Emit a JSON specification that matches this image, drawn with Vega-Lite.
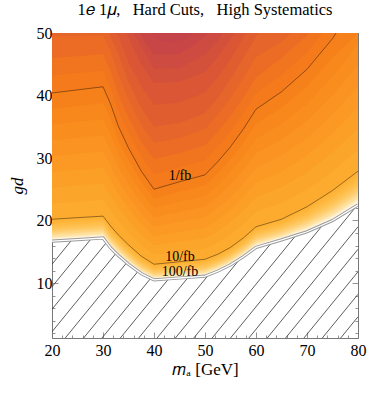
{
"$schema": "https://vega.github.io/schema/vega-lite/v6.json",
"width": 306, "height": 305,
"autosize": {"type": "none"},
"padding": {"left": 52, "top": 33, "right": 16, "bottom": 58},
"background": "white",
"title": {"text": "1𝑒 1𝜇,\u2002 Hard Cuts,\u2002 High Systematics", "font": "Liberation Serif", "fontSize": 16.5, "fontWeight": "normal", "color": "#000", "offset": 7},
"config": {
  "view": {"stroke": "#777", "strokeWidth": 1},
  "axis": {"domain": false, "grid": false, "labelFlush": false, "labelOverlap": false, "labelFont": "Liberation Serif", "labelFontSize": 16, "labelColor": "#000", "tickColor": "#777", "tickWidth": 0.8, "titleFont": "Liberation Serif", "titleFontSize": 17, "titleFontWeight": "normal", "titleColor": "#000"}
},
"datasets": {
  "wide": [
    {"m":20,"a0":16.7,"a1":16.88,"a2":17.05,"a3":17.23,"a4":17.4,"a5":17.75,"a6":18.1,"a7":18.45,"a8":18.8,"a9":19.15,"a10":19.5,"a11":19.85,"c0":20.2,"c1":22.73,"c2":25.25,"c3":27.78,"c4":30.3,"c5":32.83,"c6":35.35,"c7":37.88},
    {"m":25,"a0":16.95,"a1":17.13,"a2":17.3,"a3":17.48,"a4":17.65,"a5":18.0,"a6":18.35,"a7":18.7,"a8":19.05,"a9":19.4,"a10":19.75,"a11":20.1,"c0":20.45,"c1":23.01,"c2":25.56,"c3":28.12,"c4":30.68,"c5":33.23,"c6":35.79,"c7":38.34},
    {"m":30,"a0":17.2,"a1":17.38,"a2":17.55,"a3":17.73,"a4":17.9,"a5":18.25,"a6":18.6,"a7":18.95,"a8":19.3,"a9":19.65,"a10":20.0,"a11":20.35,"c0":20.7,"c1":23.29,"c2":25.88,"c3":28.46,"c4":31.05,"c5":33.64,"c6":36.23,"c7":38.81},
    {"m":31.5,"a0":15.6,"a1":15.78,"a2":15.95,"a3":16.13,"a4":16.3,"a5":16.65,"a6":17.0,"a7":17.35,"a8":17.7,"a9":18.05,"a10":18.4,"a11":18.75,"c0":19.1,"c1":21.54,"c2":23.98,"c3":26.41,"c4":28.85,"c5":31.29,"c6":33.73,"c7":36.16},
    {"m":33,"a0":14.4,"a1":14.57,"a2":14.73,"a3":14.9,"a4":15.06,"a5":15.39,"a6":15.72,"a7":16.05,"a8":16.38,"a9":16.71,"a10":17.04,"a11":17.37,"c0":17.7,"c1":19.88,"c2":22.05,"c3":24.23,"c4":26.4,"c5":28.58,"c6":30.75,"c7":32.93},
    {"m":35,"a0":13.0,"a1":13.16,"a2":13.31,"a3":13.47,"a4":13.62,"a5":13.93,"a6":14.24,"a7":14.55,"a8":14.86,"a9":15.17,"a10":15.48,"a11":15.79,"c0":16.1,"c1":18.04,"c2":19.98,"c3":21.91,"c4":23.85,"c5":25.79,"c6":27.73,"c7":29.66},
    {"m":37.5,"a0":11.5,"a1":11.64,"a2":11.78,"a3":11.92,"a4":12.06,"a5":12.34,"a6":12.62,"a7":12.9,"a8":13.18,"a9":13.46,"a10":13.74,"a11":14.02,"c0":14.3,"c1":16.0,"c2":17.7,"c3":19.4,"c4":21.1,"c5":22.8,"c6":24.5,"c7":26.2},
    {"m":40,"a0":10.5,"a1":10.63,"a2":10.75,"a3":10.88,"a4":11.0,"a5":11.25,"a6":11.5,"a7":11.75,"a8":12.0,"a9":12.25,"a10":12.5,"a11":12.75,"c0":13.0,"c1":14.5,"c2":16.0,"c3":17.5,"c4":19.0,"c5":20.5,"c6":22.0,"c7":23.5},
    {"m":45,"a0":10.8,"a1":10.93,"a2":11.06,"a3":11.19,"a4":11.32,"a5":11.58,"a6":11.84,"a7":12.1,"a8":12.36,"a9":12.62,"a10":12.88,"a11":13.14,"c0":13.4,"c1":15.0,"c2":16.6,"c3":18.2,"c4":19.8,"c5":21.4,"c6":23.0,"c7":24.6},
    {"m":50,"a0":11.1,"a1":11.24,"a2":11.37,"a3":11.51,"a4":11.64,"a5":11.91,"a6":12.18,"a7":12.45,"a8":12.72,"a9":12.99,"a10":13.26,"a11":13.53,"c0":13.8,"c1":15.49,"c2":17.18,"c3":18.86,"c4":20.55,"c5":22.24,"c6":23.93,"c7":25.61},
    {"m":52.5,"a0":11.9,"a1":12.04,"a2":12.17,"a3":12.31,"a4":12.44,"a5":12.71,"a6":12.98,"a7":13.25,"a8":13.52,"a9":13.79,"a10":14.06,"a11":14.33,"c0":14.6,"c1":16.45,"c2":18.3,"c3":20.15,"c4":22.0,"c5":23.85,"c6":25.7,"c7":27.55},
    {"m":55,"a0":12.9,"a1":13.04,"a2":13.18,"a3":13.32,"a4":13.46,"a5":13.74,"a6":14.02,"a7":14.3,"a8":14.58,"a9":14.86,"a10":15.14,"a11":15.42,"c0":15.7,"c1":17.71,"c2":19.73,"c3":21.74,"c4":23.75,"c5":25.76,"c6":27.78,"c7":29.79},
    {"m":57.5,"a0":14.2,"a1":14.35,"a2":14.5,"a3":14.65,"a4":14.8,"a5":15.1,"a6":15.4,"a7":15.7,"a8":16.0,"a9":16.3,"a10":16.6,"a11":16.9,"c0":17.2,"c1":19.38,"c2":21.55,"c3":23.73,"c4":25.9,"c5":28.08,"c6":30.25,"c7":32.43},
    {"m":60,"a0":15.7,"a1":15.87,"a2":16.03,"a3":16.2,"a4":16.36,"a5":16.69,"a6":17.02,"a7":17.35,"a8":17.68,"a9":18.01,"a10":18.34,"a11":18.67,"c0":19.0,"c1":21.35,"c2":23.7,"c3":26.05,"c4":28.4,"c5":30.75,"c6":33.1,"c7":35.45},
    {"m":65,"a0":16.9,"a1":17.07,"a2":17.23,"a3":17.4,"a4":17.56,"a5":17.89,"a6":18.22,"a7":18.55,"a8":18.88,"a9":19.21,"a10":19.54,"a11":19.87,"c0":20.2,"c1":22.75,"c2":25.3,"c3":27.85,"c4":30.4,"c5":32.95,"c6":35.5,"c7":38.05},
    {"m":70,"a0":18.2,"a1":18.4,"a2":18.6,"a3":18.8,"a4":19.0,"a5":19.4,"a6":19.8,"a7":20.2,"a8":20.6,"a9":21.0,"a10":21.4,"a11":21.8,"c0":22.2,"c1":24.95,"c2":27.7,"c3":30.45,"c4":33.2,"c5":35.95,"c6":38.7,"c7":41.45},
    {"m":75,"a0":20.0,"a1":20.24,"a2":20.48,"a3":20.72,"a4":20.96,"a5":21.44,"a6":21.92,"a7":22.4,"a8":22.88,"a9":23.36,"a10":23.84,"a11":24.32,"c0":24.8,"c1":27.84,"c2":30.88,"c3":33.91,"c4":36.95,"c5":39.99,"c6":43.03,"c7":46.06},
    {"m":80,"a0":22.5,"a1":22.77,"a2":23.04,"a3":23.31,"a4":23.58,"a5":24.12,"a6":24.66,"a7":25.2,"a8":25.74,"a9":26.28,"a10":26.82,"a11":27.36,"c0":27.9,"c1":31.29,"c2":34.68,"c3":38.06,"c4":41.45,"c5":44.84,"c6":48.23,"c7":50}
  ],
  "top": [
    {"l":"t0","m":20,"g":40.4},{"l":"t0","m":25,"g":40.9},{"l":"t0","m":30,"g":41.4},{"l":"t0","m":31.5,"g":38.6},{"l":"t0","m":33,"g":35.1},{"l":"t0","m":35,"g":31.6},{"l":"t0","m":37.5,"g":27.9},{"l":"t0","m":40,"g":25.0},{"l":"t0","m":45,"g":26.2},{"l":"t0","m":50,"g":27.3},{"l":"t0","m":52.5,"g":29.4},{"l":"t0","m":55,"g":31.8},{"l":"t0","m":57.5,"g":34.6},{"l":"t0","m":60,"g":37.8},{"l":"t0","m":65,"g":40.6},{"l":"t0","m":70,"g":44.2},{"l":"t0","m":75,"g":49.1},{"l":"t0","m":75.7,"g":50},{"l":"t0","m":80,"g":50},
    {"l":"t1","m":20,"g":43.2},{"l":"t1","m":25,"g":43.6},{"l":"t1","m":30,"g":44.0},{"l":"t1","m":31.5,"g":41.2},{"l":"t1","m":33,"g":37.65},{"l":"t1","m":35,"g":34.05},{"l":"t1","m":37.5,"g":30.25},{"l":"t1","m":40,"g":27.4},{"l":"t1","m":45,"g":28.5},{"l":"t1","m":50,"g":29.65},{"l":"t1","m":52.5,"g":31.8},{"l":"t1","m":55,"g":34.25},{"l":"t1","m":57.5,"g":37.1},{"l":"t1","m":60,"g":40.35},{"l":"t1","m":65,"g":43.3},{"l":"t1","m":70,"g":46.9},{"l":"t1","m":73,"g":50},{"l":"t1","m":80,"g":50},
    {"l":"t2","m":20,"g":46.0},{"l":"t2","m":25,"g":46.3},{"l":"t2","m":30,"g":46.6},{"l":"t2","m":31.5,"g":43.8},{"l":"t2","m":33,"g":40.2},{"l":"t2","m":35,"g":36.5},{"l":"t2","m":37.5,"g":32.6},{"l":"t2","m":40,"g":29.8},{"l":"t2","m":45,"g":30.8},{"l":"t2","m":50,"g":32.0},{"l":"t2","m":52.5,"g":34.2},{"l":"t2","m":55,"g":36.7},{"l":"t2","m":57.5,"g":39.6},{"l":"t2","m":60,"g":42.9},{"l":"t2","m":65,"g":46.0},{"l":"t2","m":70,"g":49.6},{"l":"t2","m":70.5,"g":50},{"l":"t2","m":80,"g":50},
    {"l":"t3","m":20,"g":49.5},{"l":"t3","m":30,"g":49.6},{"l":"t3","m":31.5,"g":47.0},{"l":"t3","m":33,"g":43.4},{"l":"t3","m":35,"g":39.35},{"l":"t3","m":37.5,"g":35.3},{"l":"t3","m":40,"g":32.4},{"l":"t3","m":45,"g":33.2},{"l":"t3","m":50,"g":34.6},{"l":"t3","m":52.5,"g":36.9},{"l":"t3","m":55,"g":39.65},{"l":"t3","m":57.5,"g":42.8},{"l":"t3","m":60,"g":46.15},{"l":"t3","m":65,"g":48.6},{"l":"t3","m":67,"g":50},{"l":"t3","m":80,"g":50},
    {"l":"t4","m":20,"g":50},{"l":"t4","m":31.2,"g":50},{"l":"t4","m":33,"g":46.6},{"l":"t4","m":35,"g":42.2},{"l":"t4","m":37.5,"g":38.0},{"l":"t4","m":40,"g":35.0},{"l":"t4","m":45,"g":35.6},{"l":"t4","m":50,"g":37.2},{"l":"t4","m":52.5,"g":39.6},{"l":"t4","m":55,"g":42.6},{"l":"t4","m":57.5,"g":46.0},{"l":"t4","m":60,"g":49.4},{"l":"t4","m":60.6,"g":50},{"l":"t4","m":80,"g":50},
    {"l":"t5","m":20,"g":50},{"l":"t5","m":32.4,"g":50},{"l":"t5","m":33,"g":49.6},{"l":"t5","m":35,"g":45.3},{"l":"t5","m":37.5,"g":41.5},{"l":"t5","m":40,"g":38.5},{"l":"t5","m":45,"g":38.9},{"l":"t5","m":50,"g":40.5},{"l":"t5","m":52.5,"g":42.9},{"l":"t5","m":55,"g":45.8},{"l":"t5","m":57.5,"g":49.3},{"l":"t5","m":58,"g":50},{"l":"t5","m":80,"g":50},
    {"l":"t6","m":20,"g":50},{"l":"t6","m":34.6,"g":50},{"l":"t6","m":35.5,"g":48.4},{"l":"t6","m":37.5,"g":45.0},{"l":"t6","m":40,"g":42.0},{"l":"t6","m":45,"g":42.2},{"l":"t6","m":50,"g":43.8},{"l":"t6","m":52.5,"g":46.2},{"l":"t6","m":55,"g":49.0},{"l":"t6","m":55.8,"g":50},{"l":"t6","m":80,"g":50},
    {"l":"t7","m":20,"g":50},{"l":"t7","m":36,"g":50},{"l":"t7","m":37.5,"g":47.8},{"l":"t7","m":40,"g":44.3},{"l":"t7","m":45,"g":44.4},{"l":"t7","m":50,"g":46.6},{"l":"t7","m":52.5,"g":48.8},{"l":"t7","m":53.5,"g":50},{"l":"t7","m":80,"g":50},
    {"l":"t8","m":20,"g":50},{"l":"t8","m":37.2,"g":50},{"l":"t8","m":38.5,"g":48.2},{"l":"t8","m":40,"g":46.6},{"l":"t8","m":45,"g":46.6},{"l":"t8","m":48,"g":48.2},{"l":"t8","m":50,"g":49.5},{"l":"t8","m":50.8,"g":50},{"l":"t8","m":80,"g":50},
    {"l":"t9","m":20,"g":50},{"l":"t9","m":39.5,"g":50},{"l":"t9","m":41,"g":48.8},{"l":"t9","m":44,"g":48.5},{"l":"t9","m":46.5,"g":49.2},{"l":"t9","m":48,"g":50},{"l":"t9","m":80,"g":50}
  ],
  "hatch": [
    {"m":20,"g":13.0,"m2":23.89,"g2":16.89},{"m":20,"g":9.4,"m2":27.68,"g2":17.08},{"m":20,"g":5.8,"m2":30.68,"g2":16.48},{"m":20,"g":2.2,"m2":32.56,"g2":14.76},
    {"m":22.6,"g":1.2,"m2":34.65,"g2":13.25},{"m":26.2,"g":1.2,"m2":36.88,"g2":11.88},{"m":29.8,"g":1.2,"m2":39.36,"g2":10.76},{"m":33.4,"g":1.2,"m2":42.87,"g2":10.67},
    {"m":37.0,"g":1.2,"m2":46.70,"g2":10.90},{"m":40.6,"g":1.2,"m2":50.74,"g2":11.34},{"m":44.2,"g":1.2,"m2":56.88,"g2":13.88},{"m":47.8,"g":1.2,"m2":63.03,"g2":16.43},
    {"m":51.4,"g":1.2,"m2":67.84,"g2":17.64},{"m":55.0,"g":1.2,"m2":73.13,"g2":19.33},{"m":58.6,"g":1.2,"m2":79.8,"g2":22.4},{"m":62.2,"g":1.2,"m2":80,"g2":19.0},
    {"m":65.8,"g":1.2,"m2":80,"g2":15.4},{"m":69.4,"g":1.2,"m2":80,"g2":11.8},{"m":73.0,"g":1.2,"m2":80,"g2":8.2},{"m":76.6,"g":1.2,"m2":80,"g2":4.6}
  ],
  "lab": [
    {"m":45.1,"g":27.1,"t":"1/fb"},{"m":45.1,"g":14.2,"t":"10/fb"},{"m":45.1,"g":11.8,"t":"100/fb"}
  ]
},
"resolve": {"axis": {"x": "independent", "y": "independent"}},
"layer": [
  {
    "encoding": {
      "x": {"field": "m", "type": "quantitative", "scale": {"domain": [20, 80], "nice": false, "zero": false},
        "axis": {"orient": "bottom", "values": [20,22,24,26,28,30,32,34,36,38,40,42,44,46,48,50,52,54,56,58,60,62,64,66,68,70,72,74,76,78,80], "labelExpr": "datum.value % 10 === 0 ? datum.label : ''", "tickSize": {"condition": {"test": "datum.value % 10 === 0", "value": -6}, "value": -3}, "labelFont": "Liberation Serif", "labelFontSize": 16, "labelPadding": 10, "title": "𝑚ₐ [GeV]", "titleFont": "Liberation Serif", "titlePadding": 0}},
      "y": {"field": "g", "type": "quantitative", "scale": {"domain": [1.2, 50], "nice": false, "zero": false},
        "axis": {"orient": "left", "values": [2,4,6,8,10,12,14,16,18,20,22,24,26,28,30,32,34,36,38,40,42,44,46,48,50], "labelExpr": "datum.value % 10 === 0 ? datum.label : ''", "tickSize": {"condition": {"test": "datum.value % 10 === 0", "value": -6}, "value": -3}, "labelFont": "Liberation Serif", "labelFontSize": 16, "labelPadding": 6, "title": "gd", "titleFont": "Liberation Serif", "titleFontStyle": "italic", "titlePadding": 10}}
    },
    "layer": [
      {"data": {"name": "wide"}, "transform": [{"fold": ["a0","a1","a2","a3","a4","a5","a6","a7","a8","a9","a10","a11","c0","c1","c2","c3","c4","c5","c6","c7"], "as": ["l", "g"]}],
       "encoding": {"y2": {"datum": 50}},
       "layer": [
        {"transform": [{"filter": "datum.l == 'a0'"}], "mark": {"type": "area", "color": "#fffcf5", "clip": true}},
        {"transform": [{"filter": "datum.l == 'a1'"}], "mark": {"type": "area", "color": "#fff6e3", "clip": true}},
        {"transform": [{"filter": "datum.l == 'a2'"}], "mark": {"type": "area", "color": "#ffefcc", "clip": true}},
        {"transform": [{"filter": "datum.l == 'a3'"}], "mark": {"type": "area", "color": "#ffe8b6", "clip": true}},
        {"transform": [{"filter": "datum.l == 'a4'"}], "mark": {"type": "area", "color": "#ffdf9c", "clip": true}},
        {"transform": [{"filter": "datum.l == 'a5'"}], "mark": {"type": "area", "color": "#ffd582", "clip": true}},
        {"transform": [{"filter": "datum.l == 'a6'"}], "mark": {"type": "area", "color": "#ffcc6c", "clip": true}},
        {"transform": [{"filter": "datum.l == 'a7'"}], "mark": {"type": "area", "color": "#ffc55a", "clip": true}},
        {"transform": [{"filter": "datum.l == 'a8'"}], "mark": {"type": "area", "color": "#ffbf4c", "clip": true}},
        {"transform": [{"filter": "datum.l == 'a9'"}], "mark": {"type": "area", "color": "#feba42", "clip": true}},
        {"transform": [{"filter": "datum.l == 'a10'"}], "mark": {"type": "area", "color": "#feb53a", "clip": true}},
        {"transform": [{"filter": "datum.l == 'a11'"}], "mark": {"type": "area", "color": "#feb134", "clip": true}},
        {"transform": [{"filter": "datum.l == 'c0'"}], "mark": {"type": "area", "color": "#fdab2f", "clip": true}},
        {"transform": [{"filter": "datum.l == 'c1'"}], "mark": {"type": "area", "color": "#fca52b", "clip": true}},
        {"transform": [{"filter": "datum.l == 'c2'"}], "mark": {"type": "area", "color": "#fb9f27", "clip": true}},
        {"transform": [{"filter": "datum.l == 'c3'"}], "mark": {"type": "area", "color": "#fb9924", "clip": true}},
        {"transform": [{"filter": "datum.l == 'c4'"}], "mark": {"type": "area", "color": "#fa9321", "clip": true}},
        {"transform": [{"filter": "datum.l == 'c5'"}], "mark": {"type": "area", "color": "#f98d1e", "clip": true}},
        {"transform": [{"filter": "datum.l == 'c6'"}], "mark": {"type": "area", "color": "#f8871c", "clip": true}},
        {"transform": [{"filter": "datum.l == 'c7'"}], "mark": {"type": "area", "color": "#f6811a", "clip": true}}
       ]
      },
      {"data": {"name": "top"}, "encoding": {"y2": {"datum": 50}},
       "layer": [
        {"transform": [{"filter": "datum.l == 't0'"}], "mark": {"type": "area", "color": "#f47a1b", "clip": true}},
        {"transform": [{"filter": "datum.l == 't1'"}], "mark": {"type": "area", "color": "#f1741f", "clip": true}},
        {"transform": [{"filter": "datum.l == 't2'"}], "mark": {"type": "area", "color": "#ec6c25", "clip": true}},
        {"transform": [{"filter": "datum.l == 't3'"}], "mark": {"type": "area", "color": "#e6652a", "clip": true}},
        {"transform": [{"filter": "datum.l == 't4'"}], "mark": {"type": "area", "color": "#e05d30", "clip": true}},
        {"transform": [{"filter": "datum.l == 't5'"}], "mark": {"type": "area", "color": "#da5635", "clip": true}},
        {"transform": [{"filter": "datum.l == 't6'"}], "mark": {"type": "area", "color": "#d3503b", "clip": true}},
        {"transform": [{"filter": "datum.l == 't7'"}], "mark": {"type": "area", "color": "#cd4b40", "clip": true}},
        {"transform": [{"filter": "datum.l == 't8'"}], "mark": {"type": "area", "color": "#c84746", "clip": true}},
        {"transform": [{"filter": "datum.l == 't9'"}], "mark": {"type": "area", "color": "#c44449", "clip": true}}
       ]
      },
      {"data": {"name": "hatch"}, "mark": {"type": "rule", "color": "#333", "strokeWidth": 0.8, "clip": true},
       "encoding": {"x2": {"field": "m2"}, "y2": {"field": "g2"}}},
      {"data": {"name": "wide"}, "transform": [{"fold": ["a0"], "as": ["l", "g"]}], "mark": {"type": "line", "color": "#9a9a9a", "strokeWidth": 3.2, "clip": true}, "encoding": {}},
      {"data": {"name": "wide"}, "transform": [{"fold": ["a0"], "as": ["l", "g"]}], "mark": {"type": "line", "color": "#ffffff", "strokeWidth": 1.3, "clip": true}, "encoding": {}},
      {"data": {"name": "wide"}, "transform": [{"fold": ["c0"], "as": ["l", "g"]}], "mark": {"type": "line", "color": "#000", "opacity": 0.4, "strokeWidth": 1, "clip": true}, "encoding": {}},
      {"data": {"name": "top"}, "transform": [{"filter": "datum.l == 't0' && datum.m <= 75.7"}], "mark": {"type": "line", "color": "#000", "opacity": 0.4, "strokeWidth": 1, "clip": true}, "encoding": {}},
      {"data": {"name": "lab"}, "mark": {"type": "text", "font": "Liberation Serif", "fontSize": 14, "color": "#000", "baseline": "middle", "align": "center"},
       "encoding": {"text": {"field": "t"}}}
    ]
  },
  {
    "data": {"name": "lab"},
    "mark": {"type": "point", "opacity": 0},
    "encoding": {
      "x": {"field": "m", "type": "quantitative", "scale": {"domain": [20, 80], "nice": false, "zero": false},
        "axis": {"orient": "top", "values": [20,22,24,26,28,30,32,34,36,38,40,42,44,46,48,50,52,54,56,58,60,62,64,66,68,70,72,74,76,78,80], "labels": false, "title": null, "tickSize": {"condition": {"test": "datum.value % 10 === 0", "value": -6}, "value": -3}}},
      "y": {"field": "g", "type": "quantitative", "scale": {"domain": [1.2, 50], "nice": false, "zero": false},
        "axis": {"orient": "right", "values": [2,4,6,8,10,12,14,16,18,20,22,24,26,28,30,32,34,36,38,40,42,44,46,48,50], "labels": false, "title": null, "tickSize": {"condition": {"test": "datum.value % 10 === 0", "value": -6}, "value": -3}}}
    }
  }
]
}
